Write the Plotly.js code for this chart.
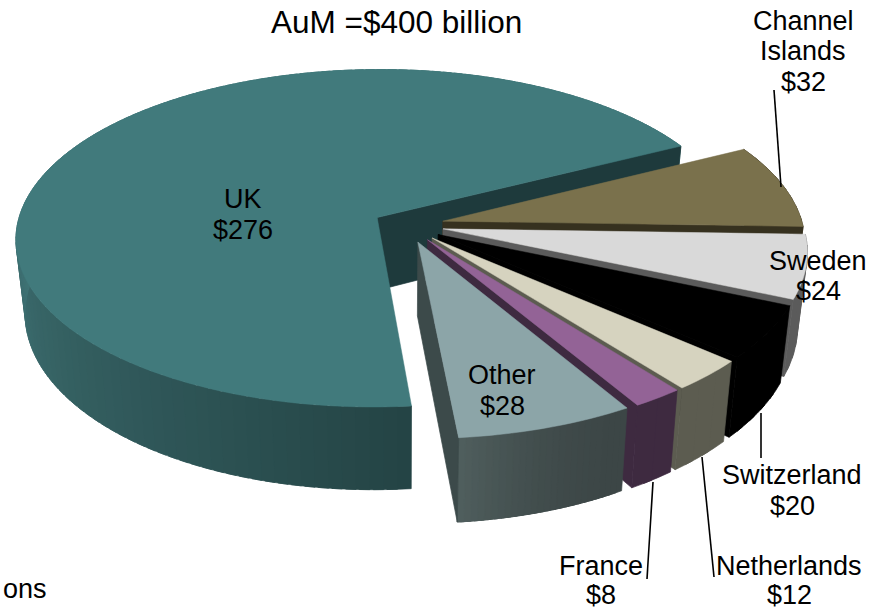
<!DOCTYPE html>
<html>
<head>
<meta charset="utf-8">
<script src="https://cdn.plot.ly/plotly-3.0.1.min.js"></script>
<style>html,body{margin:0;padding:0;background:#fff;overflow:hidden}</style>
</head>
<body>
<div id="chart" style="width:870px;height:611px"></div>
<script>
// --- data ---
const categories = ["Channel Islands", "Sweden", "Switzerland", "Netherlands", "France", "Other", "UK"];
const values = [32, 24, 20, 12, 8, 28, 276];
const titleText = "AuM =$400 billion";

// --- slice styling ---
const pulls = [0.105, 0.105, 0.105, 0.105, 0.105, 0.105, 0.092];
const topColors = ["#7a714c", "#d9d9d9", "#000000", "#d6d3bf", "#936396", "#8ca5a8", "#417a7c"];
const cutColors = ["#36311f", "#5b5b5b", "#000000", "#5c5c50", "#3e2a40", "#3c4a4a", "#1e3a3c"];
const wallStart = ["#36311f", "#5b5b5b", "#000000", "#5c5c50", "#3e2a40", "#3c4646", "#244445"];
const wallEnd   = ["#36311f", "#5b5b5b", "#000000", "#5c5c50", "#3e2a40", "#505f5e", "#417577"];
const wallRate  = [1, 1, 1, 1, 1, 1, 2.4];
const wallCurve = [1, 1, 1, 1, 1, 2, 1];

// --- projection of the tilted disc onto the page ---
const startAngle = 63, cx = 406, cy = 225, rx = 360, ry = 168;
const persp = 0.123, depth = 73, vanishX = 400, shrink = 0.976;
const rad = d => d * Math.PI / 180;
function project(X, Y, low) {
  const s = 1 / (1 - persp * Y);
  let x = cx + rx * X * s, y = cy + ry * Y * s;
  if (low) { x = vanishX + (x - vanishX) * shrink; y += depth * s; }
  return [x, y];
}
const hex = c => [1, 3, 5].map(i => parseInt(c.substr(i, 2), 16));
function mix(a, b, t) {
  const A = hex(a), B = hex(b);
  return "rgb(" + A.map((v, i) => Math.round(v + (B[i] - v) * t)).join(",") + ")";
}
const traces = [];
function poly(pts, color, edge) {
  traces.push({
    type: "scatter", mode: "lines", x: pts.map(p => p[0]).concat(pts[0][0]),
    y: pts.map(p => p[1]).concat(pts[0][1]), fill: "toself", fillcolor: color,
    line: {color: color, width: edge, simplify: false}, hoverinfo: "skip", showlegend: false
  });
}

const total = values.reduce((a, b) => a + b, 0);
let angle = startAngle;
const slices = values.map((v, i) => {
  const a0 = angle, a1 = angle + v / total * 360;
  angle = a1;
  const mid = rad((a0 + a1) / 2);
  return {i, a0, a1, ox: Math.sin(mid) * pulls[i], oy: -Math.cos(mid) * pulls[i]};
});

function drawSlice(sl) {
  const {i, a0, a1, ox, oy} = sl;
  const rim = (a, low) => project(ox + Math.sin(rad(a)), oy - Math.cos(rad(a)), low);
  const apex = low => project(ox, oy, low);
  const flat = wallStart[i] === wallEnd[i];
  // outer wall in narrow shaded bands; each band runs under the next so no seams show
  const bands = flat ? Math.max(2, Math.ceil((a1 - a0) / 4)) : Math.ceil((a1 - a0) / (i === 6 ? 2 : 1));
  for (let b = 0; b < bands; b++) {
    const u0 = a0 + (a1 - a0) * b / bands;
    const u1 = Math.min(a1, a0 + (a1 - a0) * (b + 1) / bands + 1.5);
    const um = (u0 + u1) / 2;
    const t = Math.pow(Math.min(1, (b + 0.5) / bands * wallRate[i]), wallCurve[i]);
    poly([rim(u0, false), rim(um, false), rim(u1, false), rim(u1, true), rim(um, true), rim(u0, true)],
         mix(wallStart[i], wallEnd[i], t), 0.7);
  }
  // cut faces that look toward the viewer
  if (-Math.cos(rad(a0 - 90)) > 0) poly([apex(false), rim(a0, false), rim(a0, true), apex(true)], cutColors[i], 0.7);
  if (-Math.cos(rad(a1 + 90)) > 0) poly([apex(false), rim(a1, false), rim(a1, true), apex(true)], cutColors[i], 0.7);
  // top face
  const pts = [apex(false)], n = Math.ceil((a1 - a0) / 1.5);
  for (let k = 0; k <= n; k++) pts.push(rim(a0 + (a1 - a0) * k / n, false));
  poly(pts, topColors[i], 0.5);
}
// paint from the back to the front: UK first, then clockwise round to Other
drawSlice(slices[6]);
for (let i = 0; i < 6; i++) drawSlice(slices[i]);

const textFont = {family: "Liberation Sans, Arial, sans-serif", size: 27, color: "#000"};
const note = (x, y, text, extra) => Object.assign({
  x, y, xref: "x", yref: "y", text, showarrow: false, font: textFont,
  xanchor: "center", yanchor: "middle", align: "center"
}, extra || {});
// one annotation per text line, so the line spacing follows the reference
function labelNotes(i, x, ys) {
  const lines = categories[i].split(" ").concat("$" + values[i]);
  return lines.map((t, k) => note(x, ys[k], t));
}
const annotations = [
  note(396, 22, titleText, {font: Object.assign({}, textFont, {size: 31.5})}),
  ...labelNotes(0, 803, [21, 51, 82]),
  ...labelNotes(1, 818, [261, 291]),
  ...labelNotes(2, 792, [475, 506]),
  ...labelNotes(3, 789, [566, 595]),
  ...labelNotes(4, 601, [566, 595]),
  ...labelNotes(5, 502, [375, 406]),
  ...labelNotes(6, 243, [199, 230]),
  note(1, 589, "ons", {xanchor: "left"})
];
const leader = (x0, y0, x1, y1) => ({type: "line", xref: "x", yref: "y", x0, y0, x1, y1,
  line: {color: "#000", width: 1.6}});
const shapes = [
  leader(774, 90, 781, 187),
  leader(761, 413, 761, 458),
  leader(653, 482, 647, 579),
  leader(702, 457, 714, 577)
];

Plotly.newPlot("chart", traces, {
  width: 870, height: 611, margin: {l: 0, r: 0, t: 0, b: 0, pad: 0},
  paper_bgcolor: "#fff", plot_bgcolor: "#fff", showlegend: false,
  xaxis: {range: [0, 870], visible: false, fixedrange: true},
  yaxis: {range: [611, 0], visible: false, fixedrange: true},
  annotations, shapes
}, {displayModeBar: false, staticPlot: true});
</script>
</body>
</html>
